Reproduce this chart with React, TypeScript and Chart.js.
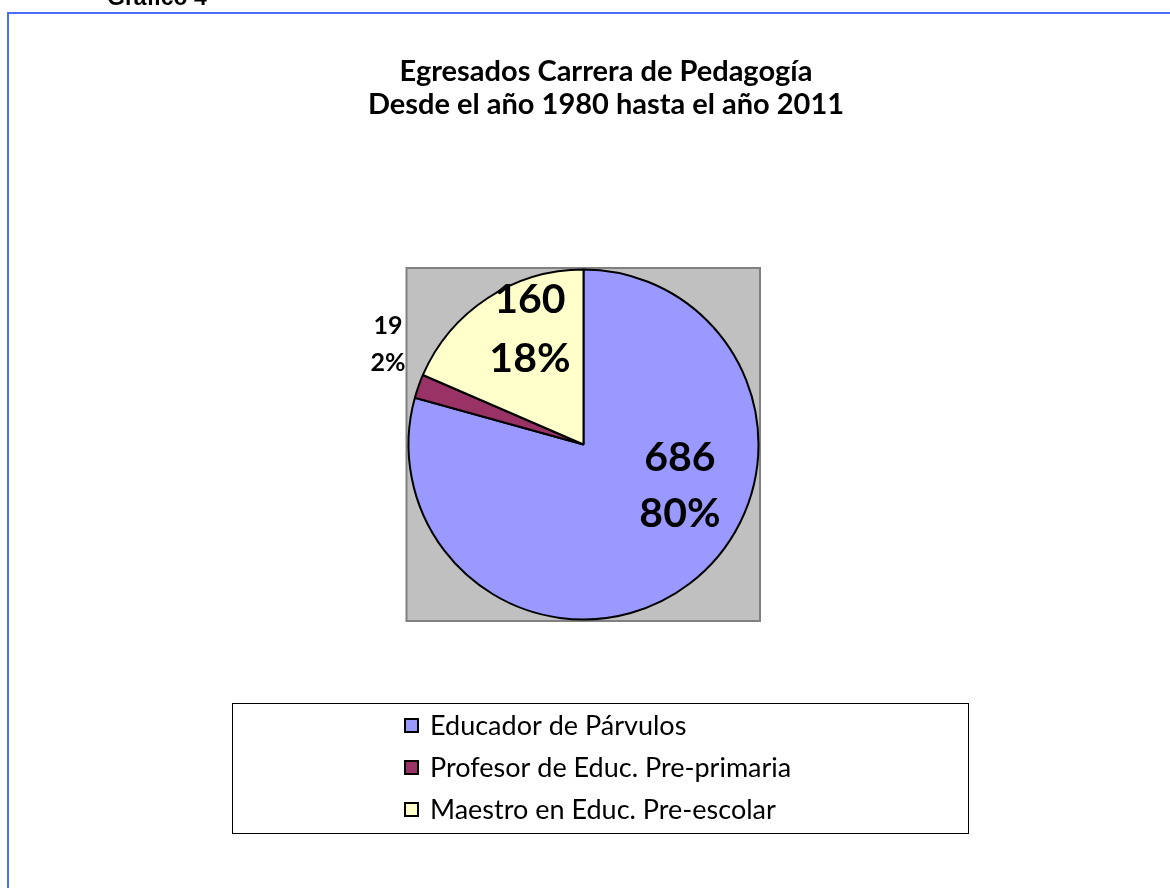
import React, { useEffect, useRef } from "react";
import { Chart, registerables } from "chart.js";

Chart.register(...registerables);

// ---- data ----
const categories = [
  "Educador de Párvulos",
  "Profesor de Educ. Pre-primaria",
  "Maestro en Educ. Pre-escolar",
];
const values = [686, 19, 160];
const percentLabels = ["80%", "2%", "18%"];
const sliceColors = ["#9999FF", "#993366", "#FFFFCC"];
const titleLines = ["Egresados Carrera de Pedagogía", "Desde el año 1980 hasta el año 2011"];
const pageHeading = "Gráfico 4";

// ---- label placement (in units of pie radius, relative to pie centre) ----
const labelPlacement = [
  { dx: 0.551, dy: 0.237, size: 41, gap: 56 },
  { dx: -1.117, dy: -0.571, size: 25, gap: 37 },
  { dx: -0.306, dy: -0.66, size: 41, gap: 59 },
];

const FONT = "Lato, 'Open Sans', sans-serif";

const decorPlugin = {
  id: "decor",
  beforeDatasetsDraw(chart: any) {
    const ctx = chart.ctx;
    const arc = chart.getDatasetMeta(0).data[0];
    if (!arc) return;
    const r = arc.outerRadius;
    const cx = arc.x;
    const cy = arc.y;
    ctx.save();
    ctx.fillStyle = "#C0C0C0";
    ctx.fillRect(cx - r - 2, cy - r - 1.5, 2 * r + 3.5, 2 * r + 3);
    ctx.strokeStyle = "#808080";
    ctx.lineWidth = 2;
    ctx.strokeRect(cx - r - 2, cy - r - 1.5, 2 * r + 3.5, 2 * r + 3);
    ctx.restore();
  },
  afterDraw(chart: any) {
    const ctx = chart.ctx;
    const meta = chart.getDatasetMeta(0);
    const arc0 = meta.data[0];
    const r = arc0.outerRadius;
    const cx = arc0.x;
    const cy = arc0.y;
    ctx.save();

    // outer page frame
    ctx.strokeStyle = "#4A6EF5";
    ctx.lineWidth = 2;
    ctx.strokeRect(8, 13, 1200, 900);

    // page heading (cut off at top)
    ctx.fillStyle = "#000";
    ctx.font = `bold 23px 'Liberation Sans', Arial, sans-serif`;
    ctx.textAlign = "left";
    ctx.textBaseline = "alphabetic";
    ctx.fillText(pageHeading, 107, 5);

    // title
    ctx.font = `bold 29px ${FONT}`;
    ctx.textAlign = "center";
    ctx.textBaseline = "middle";
    ctx.fillText(titleLines[0], 606, 72);
    ctx.fillText(titleLines[1], 606, 105);

    // data labels
    meta.data.forEach((a: any, i: number) => {
      const p = labelPlacement[i];
      const lx = cx + p.dx * r;
      const ly = cy + p.dy * r;
      ctx.font = `bold ${p.size}px ${FONT}`;
      ctx.textAlign = "center";
      ctx.textBaseline = "middle";
      ctx.fillStyle = "#000";
      ctx.fillText(String(values[i]), lx, ly - p.gap / 2);
      ctx.fillText(percentLabels[i], lx, ly + p.gap / 2);
    });

    // legend
    const lx0 = 232.5, ly0 = 703.5, lw = 736, lh = 130;
    ctx.fillStyle = "#FFFFFF";
    ctx.fillRect(lx0, ly0, lw, lh);
    ctx.strokeStyle = "#000";
    ctx.lineWidth = 1;
    ctx.strokeRect(lx0, ly0, lw, lh);
    const rowY = [726, 768, 810];
    categories.forEach((c, i) => {
      const y = rowY[i];
      ctx.fillStyle = sliceColors[i];
      ctx.fillRect(405, y - 7, 13, 13);
      ctx.strokeStyle = "#000";
      ctx.lineWidth = 2;
      ctx.strokeRect(405, y - 7, 13, 13);
      ctx.fillStyle = "#000";
      ctx.font = `27px ${FONT}`;
      ctx.textAlign = "left";
      ctx.textBaseline = "middle";
      ctx.fillText(c, 430, y);
    });
    ctx.restore();
  },
};

export default function App() {
  const ref = useRef<HTMLCanvasElement | null>(null);
  useEffect(() => {
    if (!ref.current) return;
    const chart = new Chart(ref.current, {
      type: "pie",
      data: {
        labels: categories,
        datasets: [
          {
            data: values,
            backgroundColor: sliceColors,
            borderColor: "#000000",
            borderWidth: 2,
          },
        ],
      },
      options: {
        responsive: false,
        animation: false,
        rotation: 0,
        layout: { padding: { left: 407.5, top: 268.5, right: 410.5, bottom: 267.5 } },
        plugins: {
          legend: { display: false },
          tooltip: { enabled: false },
          title: { display: false },
        },
      },
      plugins: [decorPlugin],
    } as any);
    return () => chart.destroy();
  }, []);
  return (
    <div style={{ position: "fixed", left: 0, top: 0, width: 1170, height: 888, background: "#fff" }}>
      <canvas ref={ref} width={1170} height={888} style={{ width: 1170, height: 888, display: "block" }} />
    </div>
  );
}
